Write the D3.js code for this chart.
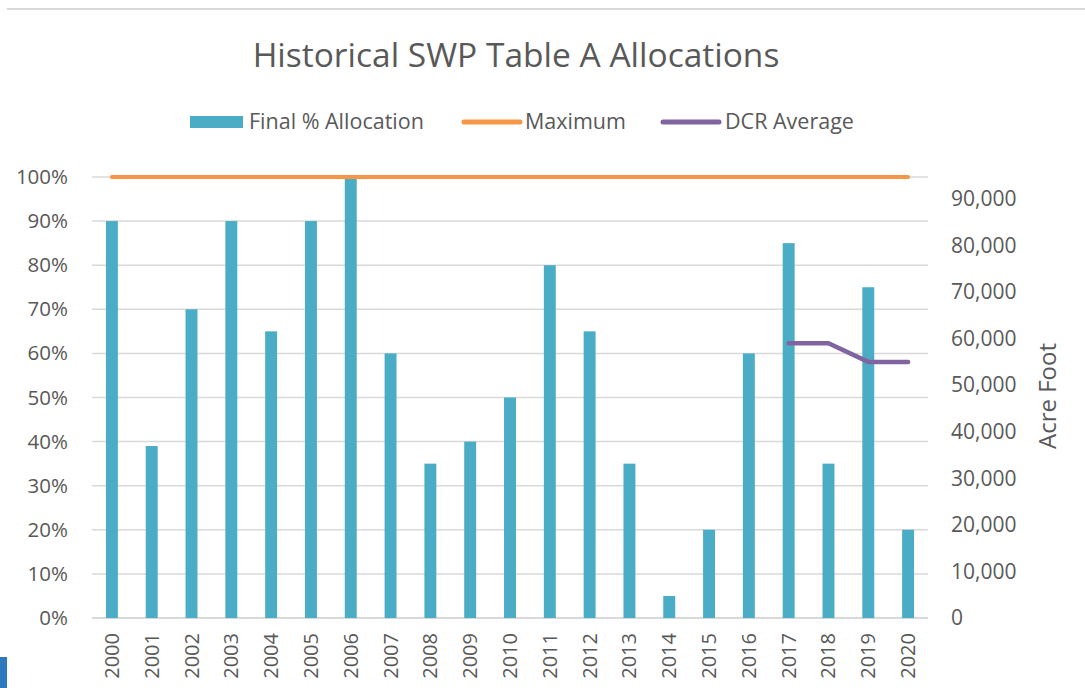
<!DOCTYPE html>
<html>
<head>
<meta charset="utf-8">
<script src="https://cdn.jsdelivr.net/npm/d3@7"></script>
<style>
  html, body { margin: 0; padding: 0; background: #fff; }
  svg { display: block; }
  text { font-family: "Open Sans", Lato, sans-serif; fill: #595959; }
</style>
</head>
<body>
<svg id="chart" width="1085" height="688"></svg>
<script>
const years = ["2000","2001","2002","2003","2004","2005","2006","2007","2008","2009","2010","2011","2012","2013","2014","2015","2016","2017","2018","2019","2020"];
const allocation = [90,39,70,90,65,90,100,60,35,40,50,80,65,35,5,20,60,85,35,75,20];
const maximum = [100,100,100,100,100,100,100,100,100,100,100,100,100,100,100,100,100,100,100,100,100];
const dcrYears = ["2017","2018","2019","2020"];
const dcrAverage = [59000,59000,55000,55000];
const leftTicks = [0,10,20,30,40,50,60,70,80,90,100];
const rightTicks = [0,10000,20000,30000,40000,50000,60000,70000,80000,90000];

(function () {
const svg = d3.select("#chart");
const W = 1085, H = 688;
const pLeft = 92, pRight = 928, pTop = 177, pBottom = 618;
const FONT = "'Open Sans', Lato, sans-serif";

// frame decorations
svg.append("line").attr("x1", 7).attr("x2", W).attr("y1", 9).attr("y2", 9)
  .attr("stroke", "#d9d9d9").attr("stroke-width", 2);
svg.append("rect").attr("x", 0).attr("y", 657).attr("width", 7).attr("height", 31).attr("fill", "#2e78be");

const x = d3.scaleBand().domain(years).range([pLeft, pRight]).paddingInner(0.7).paddingOuter(0.35);
const y = d3.scaleLinear().domain([0, 100]).range([pBottom, pTop]);
const y2 = d3.scaleLinear().domain([0, 94700]).range([pBottom, pTop]);
const cx = d => x(d) + x.bandwidth() / 2;

// gridlines
svg.append("g").selectAll("line").data(leftTicks).join("line")
  .attr("x1", pLeft).attr("x2", pRight)
  .attr("y1", d => y(d)).attr("y2", d => y(d))
  .attr("stroke", "#d9d9d9").attr("stroke-width", 1.5);

// left axis
const ga = svg.append("g").attr("transform", `translate(${pLeft},0)`)
  .call(d3.axisLeft(y).tickValues(leftTicks).tickFormat(d => d + "%").tickSize(0).tickPadding(24));
ga.select(".domain").remove();
ga.selectAll("text").style("font-size", "20.5px").style("fill", "#595959").style("font-family", FONT);

// right axis
const gr = svg.append("g").attr("transform", `translate(${pRight},0)`)
  .call(d3.axisRight(y2).tickValues(rightTicks).tickFormat(d3.format(",")).tickSize(0).tickPadding(23));
gr.select(".domain").remove();
gr.selectAll("text").style("font-size", "21px").style("fill", "#595959").style("font-family", FONT);

// x axis
const gx = svg.append("g").attr("transform", `translate(0,${pBottom})`)
  .call(d3.axisBottom(x).tickSize(0).tickPadding(0));
gx.select(".domain").attr("stroke", "#d9d9d9").attr("stroke-width", 2)
  .attr("d", `M${pLeft},0H${pRight}`);
gx.selectAll("text")
  .style("font-size", "20px").style("fill", "#595959").style("font-family", FONT)
  .attr("transform", "rotate(-90)")
  .attr("text-anchor", "end")
  .attr("x", -15).attr("y", 0).attr("dy", "0.35em");

// bars
svg.append("g").selectAll("rect").data(allocation).join("rect")
  .attr("x", (d, i) => x(years[i]))
  .attr("width", x.bandwidth())
  .attr("y", d => y(d))
  .attr("height", d => y(0) - y(d))
  .attr("fill", "#4bacc6");

// maximum line
const lineMax = d3.line().x((d, i) => cx(years[i])).y(d => y(d));
svg.append("path").datum(maximum).attr("d", lineMax)
  .attr("fill", "none").attr("stroke", "#f79646").attr("stroke-width", 4).attr("stroke-linecap", "round");

// DCR line
const lineDcr = d3.line().x((d, i) => cx(dcrYears[i])).y(d => y2(d));
svg.append("path").datum(dcrAverage).attr("d", lineDcr)
  .attr("fill", "none").attr("stroke", "#8064a2").attr("stroke-width", 4.5)
  .attr("stroke-linecap", "round").attr("stroke-linejoin", "round");

// title
svg.append("text").attr("x", 516).attr("y", 67).attr("text-anchor", "middle")
  .style("font-size", "33.5px").text("Historical SWP Table A Allocations");

// legend
const lg = svg.append("g");
lg.append("rect").attr("x", 190).attr("y", 116).attr("width", 53).attr("height", 12).attr("fill", "#4bacc6");
lg.append("text").attr("x", 249).attr("y", 129).style("font-size", "21.5px").text("Final % Allocation");
lg.append("line").attr("x1", 464).attr("x2", 520).attr("y1", 122).attr("y2", 122)
  .attr("stroke", "#f79646").attr("stroke-width", 5).attr("stroke-linecap", "round");
lg.append("text").attr("x", 525).attr("y", 129).style("font-size", "21.5px").text("Maximum");
lg.append("line").attr("x1", 663).attr("x2", 719).attr("y1", 122).attr("y2", 122)
  .attr("stroke", "#8064a2").attr("stroke-width", 5).attr("stroke-linecap", "round");
lg.append("text").attr("x", 725).attr("y", 129).style("font-size", "21.5px").text("DCR Average");

// right axis title
svg.append("text").attr("transform", "translate(1056,396) rotate(-90)")
  .attr("text-anchor", "middle").style("font-size", "24px").text("Acre Foot");
})();
</script>
</body>
</html>
